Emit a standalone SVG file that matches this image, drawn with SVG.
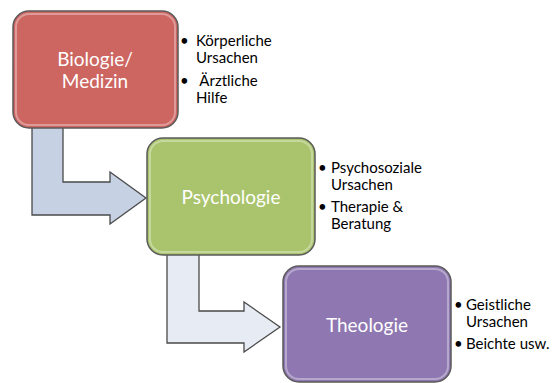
<svg xmlns="http://www.w3.org/2000/svg" width="554" height="383" viewBox="0 0 554 383">
<style>
.box{stroke:#5a5a5a;stroke-width:1.5}
.hl{fill:none;stroke:#ffffff;stroke-opacity:0.35;stroke-width:2}
.lbl{font-family:Lato,"Open Sans",sans-serif;font-size:19px;fill:#ffffff;text-anchor:middle}
.bl{font-family:Lato,"Open Sans",sans-serif;font-size:15px;fill:#000000;white-space:pre}
.arr{stroke:#4a4a4a;stroke-width:1.3;stroke-linejoin:miter}
</style>
<rect width="554" height="383" fill="#ffffff"/>
<g id="connectors">
<polygon class="arr" fill="#c6d1e3" points="32,127 63,127 63,182 110,182 110,172 146,198 110,224 110,215 32,215"/>
<polygon class="arr" fill="#e7ebf4" points="167,254 199,254 199,311 244,311 244,302 280,327 244,352 244,343 167,343"/>
</g>
<g id="node-biologie">
<rect class="box" x="13" y="11" width="165" height="117" rx="16" fill="#cd6561"/>
<rect class="hl" x="16" y="14" width="159" height="111" rx="13"/>
<text class="lbl" x="95" y="66">Biologie/</text>
<text class="lbl" x="95" y="88">Medizin</text>
<text class="bl" x="180" y="46">•</text>
<text class="bl" x="196" y="46">Körperliche</text>
<text class="bl" x="196" y="63">Ursachen</text>
<text class="bl" x="180" y="86">•</text>
<text class="bl" x="196" y="86"> Ärztliche</text>
<text class="bl" x="196" y="103">Hilfe</text>
</g>
<g id="node-psychologie">
<rect class="box" x="147" y="138" width="168" height="117" rx="16" fill="#a9c46c"/>
<rect class="hl" x="150" y="141" width="162" height="111" rx="13"/>
<text class="lbl" x="231" y="204">Psychologie</text>
<text class="bl" x="318" y="173">•</text>
<text class="bl" x="331" y="173">Psychosoziale</text>
<text class="bl" x="331" y="190">Ursachen</text>
<text class="bl" x="318" y="212">•</text>
<text class="bl" x="331" y="212">Therapie &amp;</text>
<text class="bl" x="331" y="229">Beratung</text>
</g>
<g id="node-theologie">
<rect class="box" x="283" y="266" width="168" height="116" rx="16" fill="#8f78b1"/>
<rect class="hl" x="286" y="269" width="162" height="110" rx="13"/>
<text class="lbl" x="367" y="332">Theologie</text>
<text class="bl" x="454" y="310">•</text>
<text class="bl" x="466" y="310">Geistliche</text>
<text class="bl" x="466" y="327">Ursachen</text>
<text class="bl" x="454" y="349">•</text>
<text class="bl" x="466" y="349">Beichte usw.</text>
</g>
</svg>
